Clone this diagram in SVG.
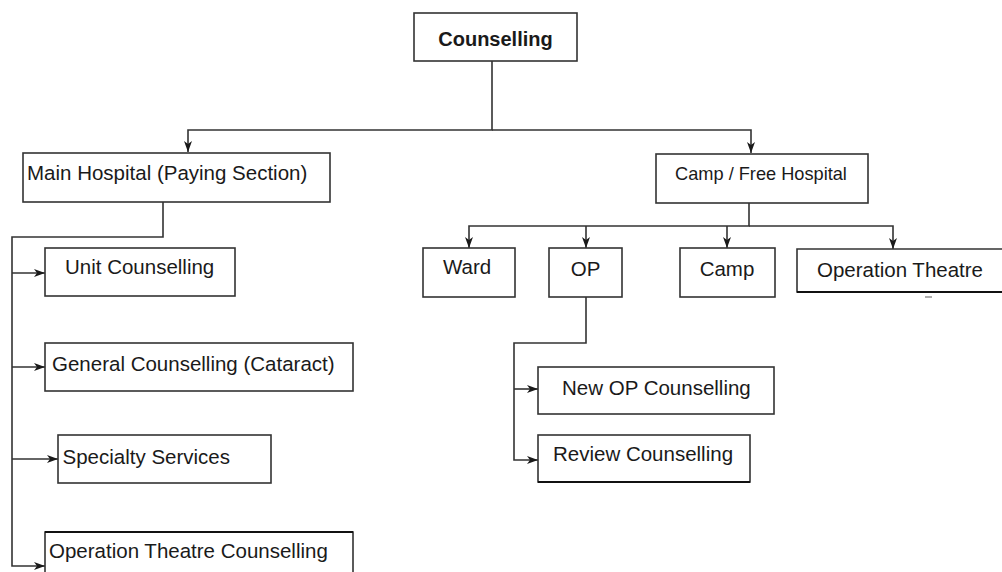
<svg xmlns="http://www.w3.org/2000/svg" width="1002" height="572" viewBox="0 0 1002 572">
<defs>
<marker id="arr" markerUnits="userSpaceOnUse" markerWidth="12" markerHeight="10" refX="11" refY="5" orient="auto">
<path d="M0,1 L11,5 L0,9 L3,5 Z" fill="#1a1a1a"/>
</marker>
<style>
.box{fill:#fff;stroke:#333;stroke-width:1.6}
.t{font-family:"Liberation Sans",Arial,sans-serif;font-size:20.5px;fill:#1a1a1a}
.b{font-weight:bold;font-size:20px}
.c{fill:none;stroke:#333;stroke-width:1.6}
</style>
</defs>
<rect width="1002" height="572" fill="#fff"/>
<g id="connectors">
<path class="c" d="M492,61 V130 H188 V152" marker-end="url(#arr)"/>
<path class="c" d="M492,130 H751 V153" marker-end="url(#arr)"/>
<path class="c" d="M749,203 V226 H469 V248" marker-end="url(#arr)"/>
<path class="c" d="M586,226 V248" marker-end="url(#arr)"/>
<path class="c" d="M727,226 V248" marker-end="url(#arr)"/>
<path class="c" d="M749,226 H893 V249" marker-end="url(#arr)"/>
<path class="c" d="M163,202 V237 H12 V566 H45" marker-end="url(#arr)"/>
<path class="c" d="M12,273 H45" marker-end="url(#arr)"/>
<path class="c" d="M12,367 H45" marker-end="url(#arr)"/>
<path class="c" d="M12,459 H58" marker-end="url(#arr)"/>
<path class="c" d="M586,297 V343 H514 V460 H538" marker-end="url(#arr)"/>
<path class="c" d="M514,389 H538" marker-end="url(#arr)"/>
</g>
<g id="n-counselling">
<rect class="box" x="414" y="13" width="163" height="48"/>
<text class="t b" x="495.5" y="46" text-anchor="middle">Counselling</text>
</g>
<g id="n-main">
<rect class="box" x="23" y="153" width="307" height="49"/>
<text class="t" x="27" y="180">Main Hospital (Paying Section)</text>
</g>
<g id="n-camp-free">
<rect class="box" x="656" y="154" width="212" height="49"/>
<text class="t" x="761" y="180" text-anchor="middle" style="font-size:18.2px">Camp / Free Hospital</text>
</g>
<g id="n-ward">
<rect class="box" x="423" y="248" width="92" height="49"/>
<text class="t" x="443" y="274">Ward</text>
</g>
<g id="n-op">
<rect class="box" x="549" y="248" width="73" height="49"/>
<text class="t" x="585.5" y="276" text-anchor="middle">OP</text>
</g>
<g id="n-camp">
<rect class="box" x="680" y="248" width="95" height="49"/>
<text class="t" x="727" y="276" text-anchor="middle">Camp</text>
</g>
<g id="n-ot">
<path class="c" d="M1003,249 H797 V292 H1003"/>
<path d="M797,292 H1002" stroke="#111" stroke-width="2.2"/>
<path d="M925,297 H932" stroke="#777" stroke-width="1.2"/>
<text class="t" x="817" y="277">Operation Theatre</text>
</g>
<g id="n-unit">
<rect class="box" x="45" y="248" width="190" height="48"/>
<text class="t" x="65" y="274">Unit Counselling</text>
</g>
<g id="n-general">
<rect class="box" x="45" y="343" width="308" height="48"/>
<text class="t" x="52" y="371">General Counselling (Cataract)</text>
</g>
<g id="n-specialty">
<rect class="box" x="58" y="435" width="213" height="48"/>
<text class="t" x="62.5" y="464">Specialty Services</text>
</g>
<g id="n-ot-counselling">
<path class="c" d="M45,580 V532 H353 V580"/>
<path d="M45,532 H353" stroke="#111" stroke-width="2"/>
<text class="t" x="49" y="558">Operation Theatre Counselling</text>
</g>
<g id="n-newop">
<rect class="box" x="538" y="367" width="236" height="47"/>
<text class="t" x="562" y="395">New OP Counselling</text>
</g>
<g id="n-review">
<rect class="box" x="538" y="435" width="212" height="47"/>
<path d="M538,482 H750" stroke="#111" stroke-width="2"/>
<text class="t" x="553" y="461">Review Counselling</text>
</g>
</svg>
